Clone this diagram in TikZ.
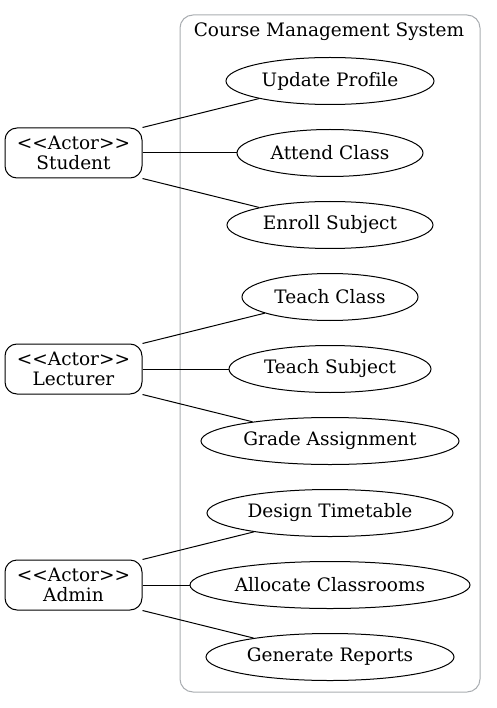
\documentclass[tikz,border=0pt]{standalone}
\usepackage{fontspec}
\setmainfont[Ligatures=NoCommon]{DejaVu Serif}
\usetikzlibrary{shapes.geometric}
\definecolor{clustergray}{HTML}{A9ADB1}
\newcommand{\actorlabel}[1]{{<}{<}Actor{>}{>}\\#1}
\tikzset{
  txt/.style={font=\fontsize{18.5}{19.5}\selectfont},
  actor/.style={txt, draw, rounded corners=12pt, line width=1pt, minimum width=137pt, minimum height=50pt, inner sep=0pt, align=center},
  usecase/.style={txt, draw, ellipse, line width=1pt, minimum height=47pt, inner sep=0pt},
  link/.style={line width=1pt},
}
\begin{document}
\begin{tikzpicture}[x=1pt, y=-1pt]
\useasboundingbox (0,0) rectangle (496,708);
% system boundary
\draw[clustergray, line width=1pt, rounded corners=13pt] (180,15) rectangle (480,692);
\node[txt] (title) at (329,32) {Course Management System};
% actors
\node[actor] (student) at (73.5,153) {\actorlabel{Student}};
\node[actor] (lecturer) at (73.5,369) {\actorlabel{Lecturer}};
\node[actor] (admin) at (73.5,585) {\actorlabel{Admin}};
% use cases
\node[usecase, minimum width=208pt] (up) at (330,81) {Update Profile};
\node[usecase, minimum width=186pt] (ac) at (330,153) {Attend Class};
\node[usecase, minimum width=206pt] (es) at (330,225) {Enroll Subject};
\node[usecase, minimum width=176pt] (tc) at (330,297) {Teach Class};
\node[usecase, minimum width=202pt] (ts) at (330,369) {Teach Subject};
\node[usecase, minimum width=258pt] (ga) at (330,441) {Grade Assignment};
\node[usecase, minimum width=246pt] (dt) at (330,513) {Design Timetable};
\node[usecase, minimum width=280pt] (al) at (330,585) {Allocate Classrooms};
\node[usecase, minimum width=248pt] (gr) at (330,657) {Generate Reports};
% associations
\draw[link] (student.north east) -- (up);
\draw[link] (student.east) -- (ac);
\draw[link] (student.south east) -- (es);
\draw[link] (lecturer.north east) -- (tc);
\draw[link] (lecturer.east) -- (ts);
\draw[link] (lecturer.south east) -- (ga);
\draw[link] (admin.north east) -- (dt);
\draw[link] (admin.east) -- (al);
\draw[link] (admin.south east) -- (gr);
\end{tikzpicture}
\end{document}
